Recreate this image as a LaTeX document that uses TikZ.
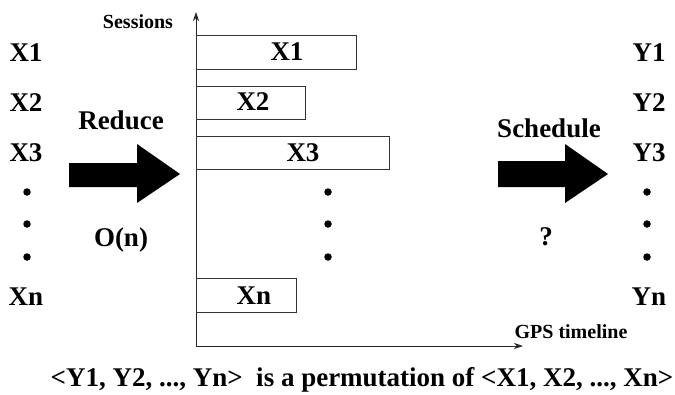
\documentclass[tikz,border=0pt]{standalone}
\usepackage{fontspec}
\setmainfont{Liberation Serif}
\usetikzlibrary{arrows.meta}
\tikzset{
  lbl/.style={font=\bfseries\fontsize{27}{27}\selectfont, inner sep=0pt},
  smalllbl/.style={font=\bfseries\fontsize{20}{20}\selectfont, inner sep=0pt},
  barbox/.style={draw=black!80, line width=0.8pt},
  axisline/.style={draw=black!85, line width=0.8pt, -{Stealth[length=9pt,width=6pt]}},
  dotmark/.style={circle, fill=black, inner sep=0pt, minimum size=7.5pt},
  bigarrow/.style={fill=black, draw=none}
}
\begin{document}
\begin{tikzpicture}[x=1pt,y=-1pt]
\useasboundingbox (0,0) rectangle (675,394);

% axes
\coordinate (origin) at (196,346);
\coordinate (ytop) at (196,12);
\coordinate (xend) at (523,346);
\draw[axisline] (origin) -- (ytop);
\draw[axisline] (origin) -- (xend);
\node[smalllbl] (sess) at (138,22) {Sessions};
\node[smalllbl] (gps) at (571,332) {GPS timeline};

% session bars
\draw[barbox] (196,35) rectangle (356,69);
\draw[barbox] (196,86) rectangle (305,119);
\draw[barbox] (196,136) rectangle (389,169);
\draw[barbox] (196,278) rectangle (296,312);
\node[lbl] (b1) at (287,52) {X1};
\node[lbl] (b2) at (253,102) {X2};
\node[lbl] (b3) at (303,153) {X3};
\node[lbl] (bn) at (254,296) {Xn};
\node[dotmark] (bd1) at (328,192) {};
\node[dotmark] (bd2) at (328,224) {};
\node[dotmark] (bd3) at (328,257) {};

% input sequence
\node[lbl] (x1) at (26,53) {X1};
\node[lbl] (x2) at (26,103) {X2};
\node[lbl] (x3) at (26,153) {X3};
\node[dotmark] (xd1) at (27,192) {};
\node[dotmark] (xd2) at (27,224) {};
\node[dotmark] (xd3) at (27,257) {};
\node[lbl] (xn) at (26,297) {Xn};

% output sequence
\node[lbl] (y1) at (649,53) {Y1};
\node[lbl] (y2) at (649,103) {Y2};
\node[lbl] (y3) at (649,153) {Y3};
\node[dotmark] (yd1) at (647,192) {};
\node[dotmark] (yd2) at (647,224) {};
\node[dotmark] (yd3) at (647,257) {};
\node[lbl] (yn) at (649,297) {Yn};

% reduce arrow
\fill[bigarrow] (69,163) -- (137,163) -- (137,144) -- (180,174) -- (137,203) -- (137,187) -- (69,187) -- cycle;
\node[lbl] (reduce) at (121,120) {Reduce};
\node[lbl] (on) at (121,240) {O(n)};

% schedule arrow
\fill[bigarrow] (498,161) -- (565,161) -- (565,144) -- (608,174) -- (565,203) -- (565,187) -- (498,187) -- cycle;
\node[lbl] (sched) at (549,128) {Schedule};
\node[lbl] (q) at (546,237) {?};

% caption
\node[lbl] (cap) at (362,380) {<Y1, Y2, ..., Yn>\ \ is a permutation of <X1, X2, ..., Xn>};
\end{tikzpicture}
\end{document}
